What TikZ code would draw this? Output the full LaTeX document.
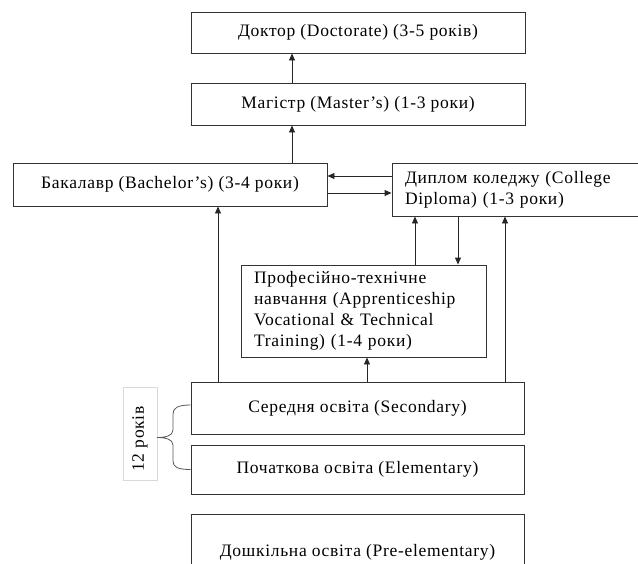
\documentclass[tikz,border=0pt]{standalone}
\usepackage{fontspec}
\setmainfont{Liberation Serif}[LetterSpace=4]
\usetikzlibrary{arrows.meta}
\begin{document}
\begin{tikzpicture}[x=1pt,y=-1pt,
  box/.style={draw=black!80, line width=0.9pt, inner sep=0pt, font=\fontsize{17.5}{21}\selectfont},
  lbox/.style={box, align=left, inner xsep=13pt},
  arr/.style={draw=black!85, line width=0.9pt, -{Triangle[length=7pt,width=6pt]}},
  brace/.style={draw=black!65, line width=0.8pt},
]
\clip (0,0) rectangle (638,563);
\fill[white] (0,0) rectangle (638,563);
% boxes
\node[box, minimum width=334pt, minimum height=41pt] (doc) at (358,32.5) {Доктор (Doctorate) (3-5 років)};
\node[box, minimum width=334pt, minimum height=42pt] (mas) at (358,104) {Магістр (Master’s) (1-3 роки)};
\node[box, minimum width=314pt, minimum height=43pt] (bac) at (170,184.5) {Бакалавр (Bachelor’s) (3-4 роки)};
\node[lbox, minimum width=268pt, minimum height=53pt, text width=242pt] (dip) at (526,189.5) {Диплом коледжу (College\\Diploma) (1-3 роки)};
\node[lbox, minimum width=245pt, minimum height=92pt, text width=219pt] (voc) at (363.5,311) {Професійно-технічне\\навчання (Apprenticeship\\Vocational \& Technical\\Training) (1-4 роки)};
\node[box, minimum width=333pt, minimum height=52pt] (sec) at (357.5,408) {Середня освіта (Secondary)};
\node[box, minimum width=333pt, minimum height=49pt] (ele) at (357.5,469.5) {Початкова освіта (Elementary)};
\node[box, minimum width=333pt, minimum height=76pt] (pre) at (357.5,552) {Дошкільна освіта (Pre-elementary)};
\node[draw=black!15, line width=0.8pt, minimum width=34pt, minimum height=93pt, inner sep=0pt,
      font=\fontsize{17.5}{21}\selectfont] (yrs) at (140,433.5) {\rotatebox{90}{12 років\hspace*{11pt}}};
% helper coordinates
\coordinate (c218) at (218,0);
\coordinate (c292) at (292,0);
\coordinate (c367) at (367,0);
\coordinate (c415) at (415,0);
\coordinate (c458) at (458,0);
\coordinate (c505) at (505,0);
\coordinate (r176) at (0,176);
\coordinate (r193) at (0,193);
\coordinate (tip) at (157,437.5);
% connectors
\draw[arr] (mas.north -| c292) -- (doc.south -| c292);
\draw[arr] (bac.north -| c292) -- (mas.south -| c292);
\draw[arr] (dip.west |- r176) -- (bac.east |- r176);
\draw[arr] (bac.east |- r193) -- (dip.west |- r193);
\draw[arr] (sec.north -| c218) -- (bac.south -| c218);
\draw[arr] (voc.north -| c415) -- (dip.south -| c415);
\draw[arr] (dip.south -| c458) -- (voc.north -| c458);
\draw[arr] (sec.north -| c505) -- (dip.south -| c505);
\draw[arr] (sec.north -| c367) -- (voc.south -| c367);
% brace
\draw[brace] ([yshift=3pt]sec.west) .. controls +(-13,0) and +(0,-6) .. (173,414) -- (173,430)
  .. controls +(0,6) and +(8,0) .. (tip)
  .. controls +(8,0) and +(0,-6) .. (173,445) -- (173,461)
  .. controls +(0,6) and +(-13,0) .. (ele.west);
\end{tikzpicture}
\end{document}
